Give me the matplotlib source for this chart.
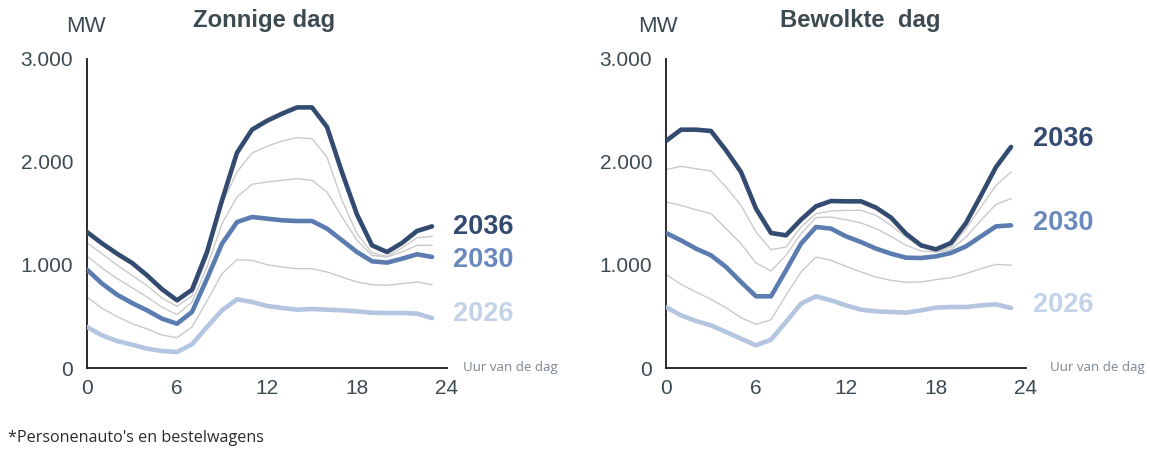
import matplotlib
matplotlib.use("Agg")
import matplotlib.pyplot as plt
from matplotlib.ticker import FixedLocator, FixedFormatter

# Hour of day
hours = list(range(24))

# Zonnige dag (MW)
sun_2036 = [1320, 1210, 1110, 1020, 900, 765, 657, 760, 1126, 1628, 2090, 2314, 2400, 2469,
            2530, 2530, 2340, 1900, 1490, 1191, 1126, 1214, 1330, 1375]
sun_2034 = [1214, 1110, 1000, 900, 800, 680, 599, 700, 1070, 1595, 1903, 2087, 2152, 2204,
            2236, 2226, 2048, 1628, 1304, 1117, 1084, 1165, 1265, 1278]
sun_2032 = [1087, 970, 870, 780, 690, 590, 518, 640, 980, 1401, 1660, 1783, 1806, 1822,
            1838, 1822, 1709, 1466, 1240, 1094, 1078, 1126, 1191, 1191]
sun_2030 = [955, 820, 712, 631, 560, 479, 430, 544, 867, 1207, 1417, 1466, 1450, 1434,
            1427, 1427, 1353, 1240, 1126, 1036, 1023, 1061, 1104, 1078]
sun_2028 = [689, 580, 500, 430, 380, 320, 294, 400, 650, 916, 1052, 1045, 1003, 980,
            964, 964, 932, 883, 835, 809, 803, 819, 835, 809]
sun_2026 = [398, 317, 262, 227, 188, 165, 155, 230, 398, 560, 667, 641, 602, 583,
            566, 573, 566, 560, 550, 537, 534, 534, 528, 485]

# Bewolkte dag (MW)
cloud_2036 = [2204, 2314, 2314, 2301, 2113, 1903, 1547, 1311, 1288, 1440, 1570, 1621, 1618, 1618,
              1557, 1460, 1304, 1191, 1152, 1214, 1408, 1676, 1951, 2146]
cloud_2034 = [1926, 1958, 1935, 1913, 1757, 1579, 1320, 1149, 1175, 1369, 1498, 1524, 1531, 1531,
              1482, 1385, 1272, 1175, 1136, 1175, 1353, 1563, 1773, 1903]
cloud_2032 = [1612, 1579, 1537, 1498, 1353, 1207, 1019, 942, 1094, 1304, 1460, 1466, 1440, 1408,
              1353, 1278, 1191, 1136, 1126, 1149, 1272, 1434, 1589, 1644]
cloud_2030 = [1311, 1239, 1159, 1094, 981, 835, 696, 696, 948, 1207, 1369, 1353, 1278, 1223,
              1159, 1110, 1071, 1068, 1084, 1117, 1181, 1278, 1375, 1385]
cloud_2028 = [909, 812, 738, 667, 586, 489, 424, 469, 706, 932, 1078, 1045, 987, 932,
              883, 851, 832, 835, 858, 877, 916, 964, 1006, 997]
cloud_2026 = [592, 511, 456, 414, 350, 285, 220, 275, 447, 625, 696, 657, 608, 566,
              550, 544, 537, 560, 586, 592, 592, 608, 618, 583]

y_ticks = [0, 1000, 2000, 3000]
y_tick_labels = ["0", "1.000", "2.000", "3.000"]
x_ticks = [0, 6, 12, 18, 24]
x_tick_labels = ["0", "6", "12", "18", "24"]

titles = ["Zonnige dag", "Bewolkte  dag"]
year_labels = ["2036", "2030", "2026"]

C_DARK = "#344b71"
C_MID = "#5b7cb0"
C_LIGHT = "#b4c5e0"
C_GREY = "#cacaca"
C_TEXT = "#3c4a51"

plt.rcParams["font.family"] = ["Liberation Sans", "DejaVu Sans"]

fig = plt.figure(figsize=(11.5, 4.51), dpi=100)

panels = [
    dict(left=87, series=(sun_2036, sun_2034, sun_2032, sun_2030, sun_2028, sun_2026),
         label_x=453, label_y=[227, 260, 314], title_x=264, mw_x=86, note_x=463),
    dict(left=666, series=(cloud_2036, cloud_2034, cloud_2032, cloud_2030, cloud_2028, cloud_2026),
         label_x=1033, label_y=[139, 223, 305], title_x=860, mw_x=658, note_x=1050),
]

W, H = 1150, 451

for i, p in enumerate(panels):
    ax = fig.add_axes([p["left"] / W, 1 - 368 / H, 360 / W, (368 - 59) / H])
    s36, s34, s32, s30, s28, s26 = p["series"]
    for s in (s34, s32, s28):
        ax.plot(hours, s, color=C_GREY, lw=1.0, solid_joinstyle="round", zorder=2)
    ax.plot(hours, s26, color=C_LIGHT, lw=3.3, solid_capstyle="round", solid_joinstyle="round", zorder=3)
    ax.plot(hours, s30, color=C_MID, lw=3.3, solid_capstyle="round", solid_joinstyle="round", zorder=4)
    ax.plot(hours, s36, color=C_DARK, lw=3.3, solid_capstyle="round", solid_joinstyle="round", zorder=5)

    ax.set_xlim(0, 24)
    ax.set_ylim(0, 3000)
    ax.xaxis.set_major_locator(FixedLocator(x_ticks))
    ax.xaxis.set_major_formatter(FixedFormatter(x_tick_labels))
    ax.yaxis.set_major_locator(FixedLocator(y_ticks))
    ax.yaxis.set_major_formatter(FixedFormatter(y_tick_labels))
    ax.tick_params(axis="both", length=0, labelsize=15, colors=C_TEXT)
    ax.tick_params(axis="x", pad=8)
    ax.tick_params(axis="y", pad=10)
    for side in ("top", "right"):
        ax.spines[side].set_visible(False)
    for side in ("left", "bottom"):
        ax.spines[side].set_color("#1a1a1a")
        ax.spines[side].set_linewidth(1.3)
    ax.patch.set_alpha(0)

    # Year labels at the right of the lines
    for txt, yy, col in zip(year_labels, p["label_y"], (C_DARK, "#6a8abc", "#c4d2e8")):
        fig.text(p["label_x"] / W, 1 - yy / H, txt, color=col, fontsize=19.5,
                 fontweight="bold", ha="left", va="center")

    fig.text(p["title_x"] / W, 1 - 20 / H, titles[i], color=C_TEXT, fontsize=17.2,
             fontweight="bold", ha="center", va="center")
    fig.text(p["mw_x"] / W, 1 - 26 / H, "MW", color=C_TEXT, fontsize=16,
             ha="center", va="center")
    fig.text(p["note_x"] / W, 1 - 368 / H, "Uur van de dag", color="#7b8792",
             fontsize=9.5, ha="left", va="center", family=["Open Sans", "DejaVu Sans"])

fig.text(8 / W, 1 - 438 / H, "*Personenauto's en bestelwagens", color="#2b2b2b",
         fontsize=11.6, ha="left", va="center", family=["Open Sans", "DejaVu Sans"])

fig.savefig("out.png", dpi=100, facecolor="white")
